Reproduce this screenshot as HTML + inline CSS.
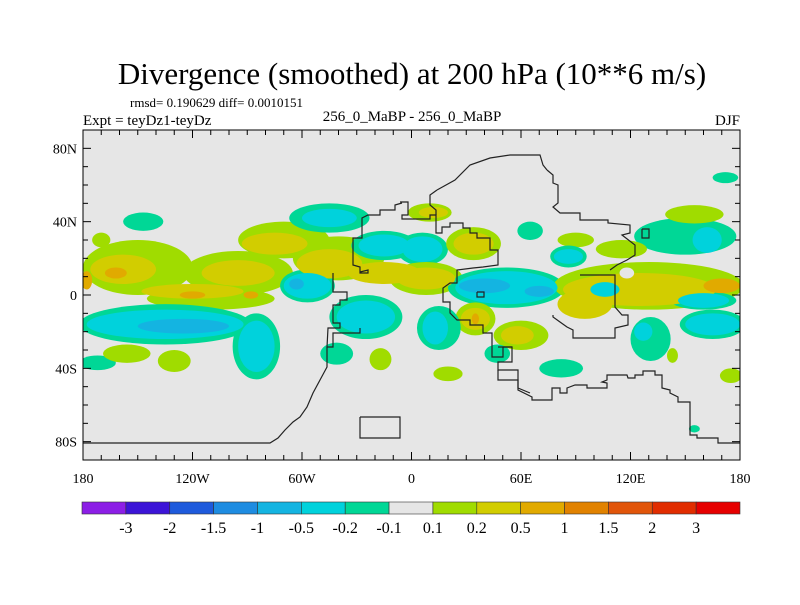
<!DOCTYPE html>
<html><head><meta charset="utf-8"><style>
body{margin:0;background:#fff;}
svg text{font-family:"Liberation Serif",serif;fill:#000;}
</style></head><body>
<svg id="chart" width="800" height="600" viewBox="0 0 800 600" xmlns="http://www.w3.org/2000/svg">
<text x="412" y="84" font-size="31" text-anchor="middle">Divergence (smoothed) at 200 hPa (10**6 m/s)</text>
<text x="130" y="107" font-size="13">rmsd= 0.190629 diff= 0.0010151</text>
<text x="83" y="125" font-size="15">Expt = teyDz1-teyDz</text>
<text x="412" y="121" font-size="15" text-anchor="middle">256_0_MaBP - 256_0_MaBP</text>
<text x="740" y="125" font-size="15" text-anchor="end">DJF</text>
<clipPath id="pc"><rect x="83" y="130" width="657" height="330"/></clipPath>
<rect x="83" y="130" width="657" height="330" fill="#e6e6e6"/>
<g id="fields" clip-path="url(#pc)"></g>
<g id="coast" clip-path="url(#pc)" fill="none" stroke="#222" stroke-width="1.2"></g>
<rect x="83" y="130" width="657" height="330" fill="none" stroke="#000" stroke-width="1"/>
<g id="ticks"></g>
<g id="cbar"></g>
</svg>
<script>
// field blobs: lon, lat, lon-radius, lat-radius, value
const blobLon=[-150,-95,-70,-40,-110,-158,-120,-95,-75,-45,-15,-162,-178,-120,-88,-135,-135,-125,-85,-85,-57,-57,-63,-25,-25,-45,-45,-15,-15,-147,-172,-156,-130,-17,-170,-41,10,12,6,6,34,34,8,8,52,52,40,70,35,35,35,60,58,15,13,47,20,82,65,90,86,86,130,125,95,170,118,106,160,160,165,165,131,127,150,162,155,172,175,143,155,115];
const blobLat=[15,12,30,20,-2,14,2,12,28,17,12,12,8,0,0,-16,-16,-17,-28,-28,5,5,6,-12,-12,42,42,27,27,40,-37,-32,-36,-35,30,-32,45,45,25,25,28,28,9,9,4,4,5,2,-13,-13,-13,-22,-22,-18,-18,-32,-43,-40,35,30,21,21,5,3,-5,5,12,3,-3,-3,-16,-16,-24,-20,32,30,44,64,-44,-33,-73,25];
const blobRx=[30,30,25,25,35,18,28,20,18,18,20,6,3,7,4,47,43,25,13,10,15,13,4,20,16,22,15,18,14,11,10,13,9,6,5,9,12,8,14,11,15,11,20,16,32,28,14,8,11,8,2,15,9,12,7,7,8,12,7,10,10,8,52,42,15,10,4,8,18,14,18,15,11,5,28,8,16,7,6,3,3,14];
const blobRy=[15,12,10,12,6,8,4,7,6,8,6,3,5,2,2,11,8,4,18,14,9,7,3,12,9,8,5,8,6,5,4,5,6,6,4,6,5,3,9,7,9,6,9,6,11,9,4,3,9,6,3,8,5,12,9,5,4,5,5,4,6,4,13,9,8,4,3,4,5,4,8,6,12,5,10,7,5,3,4,4,2,5];
const blobVal=[0.15,0.15,0.15,0.15,0.15,0.3,0.3,0.3,0.3,0.3,0.3,0.7,0.7,0.7,0.7,-0.15,-0.3,-0.7,-0.15,-0.3,-0.15,-0.3,-0.7,-0.15,-0.3,-0.15,-0.3,-0.15,-0.3,-0.15,-0.15,0.15,0.15,0.15,0.15,-0.15,0.15,0.3,-0.15,-0.3,0.15,0.3,0.15,0.3,-0.15,-0.3,-0.7,-0.7,0.15,0.3,0.7,0.15,0.3,-0.15,-0.3,-0.15,0.15,-0.15,-0.15,0.15,-0.15,-0.3,0.15,0.3,0.3,0.7,0.05,-0.3,-0.15,-0.3,-0.15,-0.3,-0.15,-0.3,-0.15,-0.3,0.15,-0.15,0.15,0.15,-0.15,0.15];
const cbLevels=["-3","-2","-1.5","-1","-0.5","-0.2","-0.1","0.1","0.2","0.5","1","1.5","2","3"];
const cbBounds=[-3,-2,-1.5,-1,-0.5,-0.2,-0.1,0.1,0.2,0.5,1,1.5,2,3];
const cbColors=["#8c1ee6","#3c14d7","#1e5adc","#1e8ce1","#14b4e1","#00d2dc","#00d796","#e6e6e6","#a0dc00","#d2cd00","#e1aa00","#e18200","#e1550a","#e12d00","#e60000"];
const lonTicks=[-180,-120,-60,0,60,120,180];
const lonLabels=["180","120W","60W","0","60E","120E","180"];
const latTicks=[80,40,0,-40,-80];
const latLabels=["80N","40N","0","40S","80S"];

const NS="http://www.w3.org/2000/svg";
const X=lon=>83+(lon+180)*657/360;
const Y=lat=>130+(90-lat)*330/180;
function colorOf(v){let i=0;while(i<cbBounds.length&&v>cbBounds[i])i++;return cbColors[i];}
function mk(tag,attrs,parent){const e=document.createElementNS(NS,tag);for(const k in attrs)e.setAttribute(k,attrs[k]);parent.appendChild(e);return e;}

const fields=document.getElementById('fields');
const idx=blobLon.map((_,i)=>i).sort((a,b)=>{const d=Math.abs(blobVal[a])-Math.abs(blobVal[b]);return d!==0?d:a-b;});
// holes (values inside ±0.1) drawn last so they punch through
const order=idx.filter(i=>Math.abs(blobVal[i])>=0.1).concat(idx.filter(i=>Math.abs(blobVal[i])<0.1));
order.forEach(i=>{
  const e=mk('ellipse',{cx:X(blobLon[i]),cy:Y(blobLat[i]),rx:blobRx[i]*657/360,ry:blobRy[i]*330/180,fill:colorOf(blobVal[i])},fields);
  
  
});

// coastline outlines (pixel polylines)
const coastLines=[
"547,170 553,175 553,183 558,185 558,203 553,207 560,213 580,213 580,220 608,220 608,223 630,225 630,233 622,235 635,245 635,255 627,260 617,265 610,270",
"580,275 615,275 615,307 622,315 628,315 628,325 615,328 615,338 573,338 573,330 567,327 560,322 553,317 553,315",
"400,202 408,202 408,215 402,215 402,219 430,219 430,215 436,215 436,233 442,233 442,227 450,227 450,223 463,223 463,228 470,228 470,233 477,233 477,238 490,238 490,250 498,250 498,265 483,267 473,268 457,270 457,283 450,283 443,288 443,302 450,302 450,313 457,320 470,320 470,325 483,325 483,333 492,333 492,357 503,357 503,347 512,347 512,362 498,362 498,370 518,370 518,388 530,393",
"498,347 512,347",
"498,370 498,380 518,380 518,390 532,397 532,400 552,400 552,388 560,388 560,393 567,393 567,388 575,385 587,385 587,388 607,388 607,383 602,382 607,380 607,375 627,375 628,378 635,378 635,375 643,375 643,371 655,371 655,375 662,375 662,388 670,390 670,393 678,397 678,402 690,402 690,435 697,435 697,438 718,438 718,443 740,443",
"402,203 395,205 395,210 380,210 380,215 368,215 362,218 362,238 353,238 353,265 360,267 360,273 368,273 368,270 360,272",
"333,273 333,292 347,292 347,300 340,300 340,305 333,305 333,323 340,323 340,328 328,328 327,347 333,347 333,333 360,333 360,328",
"327,347 327,367 320,380 313,393 307,407 300,417 293,422 285,430 278,438 270,443 83,443",
"360,417 400,417 400,438 360,438 360,417",
"642,229 649,229 649,238 642,238 642,229",
"477,292 484,292 484,297 477,297 477,292",
"437,190 455,180 470,165 490,158 510,155 540,155 543,165 547,170",
"437,190 430,195 430,205 436,210 436,215"
];
const coast=document.getElementById('coast');
coastLines.forEach(p=>{
  const e=mk('polyline',{points:p},coast);
  
  
});

// ticks
const tk=document.getElementById('ticks');
for(let lon=-170;lon<180;lon+=10){
  const major=lon%60===0, L=major?8:5;
  mk('line',{x1:X(lon),x2:X(lon),y1:130,y2:130+L,stroke:'#000'},tk);
  mk('line',{x1:X(lon),x2:X(lon),y1:460,y2:460-L,stroke:'#000'},tk);
}
for(let lat=-80;lat<=80;lat+=10){
  const major=lat%40===0, L=major?8:5;
  mk('line',{x1:83,x2:83+L,y1:Y(lat),y2:Y(lat),stroke:'#000'},tk);
  mk('line',{x1:740,x2:740-L,y1:Y(lat),y2:Y(lat),stroke:'#000'},tk);
}
lonTicks.forEach((v,i)=>{
  const t=mk('text',{x:X(v),y:483,'font-size':14,'text-anchor':'middle'},tk);
  t.textContent=lonLabels[i];
  
  
});
latTicks.forEach((v,i)=>{
  const t=mk('text',{x:77,y:Y(v)+5,'font-size':14,'text-anchor':'end'},tk);
  t.textContent=latLabels[i];
  
  
});

// colorbar
const cb=document.getElementById('cbar');
const bw=658/cbColors.length;
cbColors.forEach((c,i)=>{
  const r=mk('rect',{x:82+i*bw,y:502,width:bw,height:12,fill:c,stroke:'#333','stroke-width':0.6},cb);
  
  
});
cbLevels.forEach((s,i)=>{
  const t=mk('text',{x:82+(i+1)*bw,y:533,'font-size':16,'text-anchor':'middle'},cb);
  t.textContent=s;
  
  
});
</script>
</body></html>
